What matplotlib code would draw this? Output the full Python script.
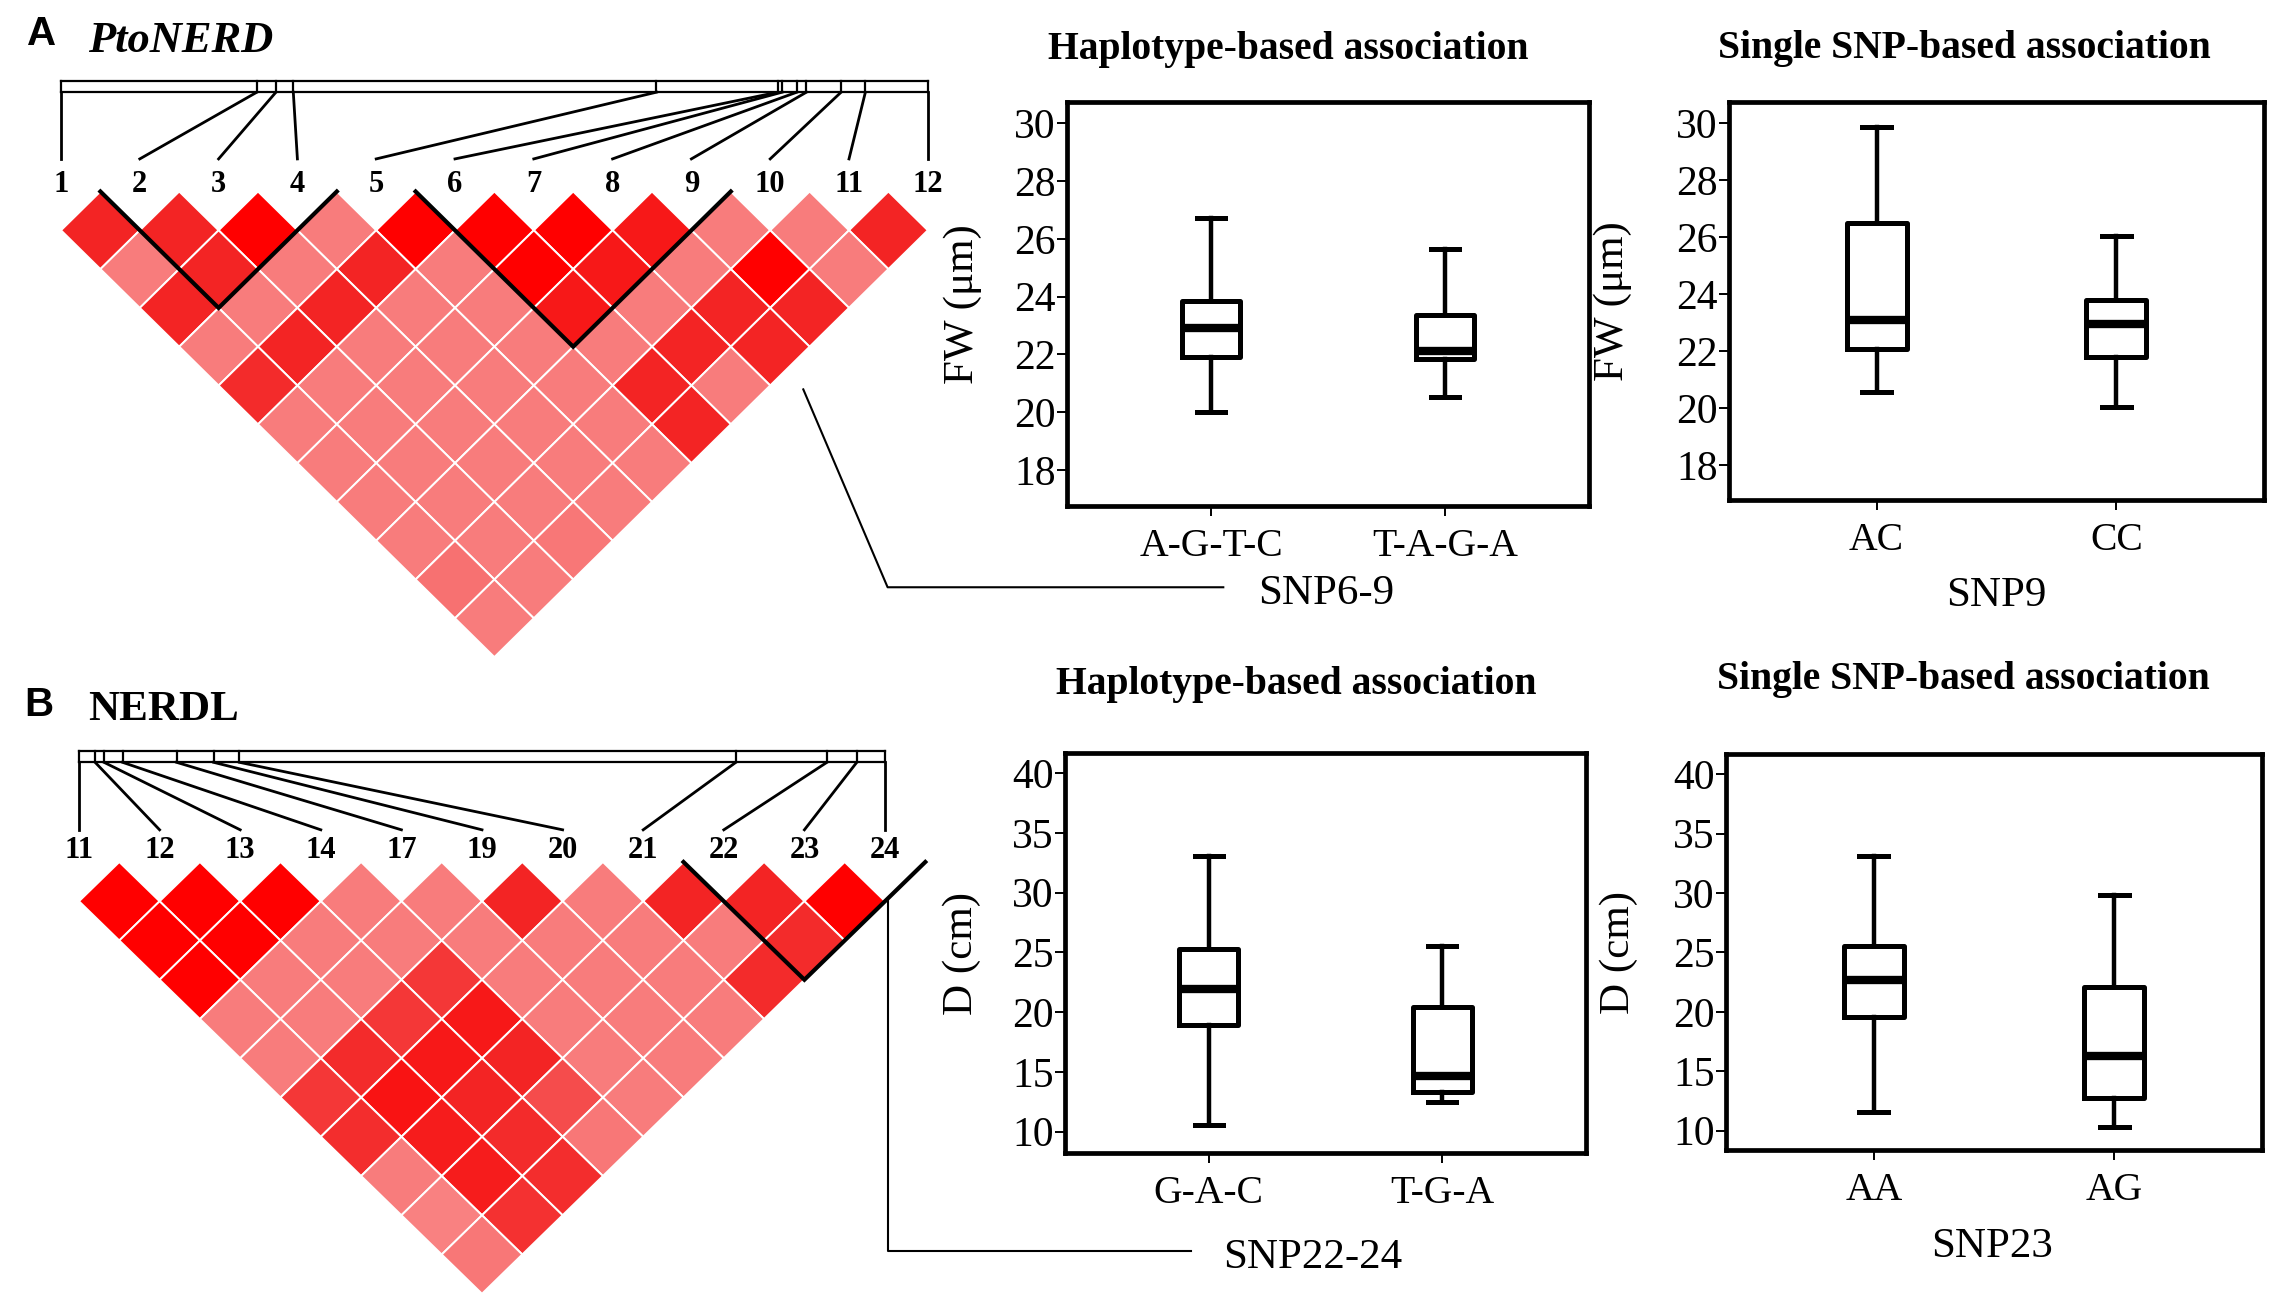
import matplotlib.pyplot as plt
import numpy as np
from matplotlib.collections import PolyCollection
from matplotlib.colors import LinearSegmentedColormap, Normalize

plt.switch_backend("Agg")

W, H = 2276, 1308
SERIF = ["Liberation Serif", "DejaVu Serif"]
SANS = ["Liberation Sans", "DejaVu Sans"]

# ---- panel A: PtoNERD LD plot (12 SNPs)
a_snps = [str(i) for i in range(1, 13)]
a_pos = [0.0, 0.226, 0.248, 0.268, 0.687, 0.827, 0.832, 0.849, 0.860, 0.900, 0.928, 1.0]
# D' values, one list per marker distance (1..11)
a_ld = [
    [0.85, 0.85, 1.0, 0.1, 1.0, 1.0, 1.0, 0.9, 0.1, 0.1, 0.85],
    [0.1, 0.85, 0.1, 0.85, 0.1, 1.0, 0.9, 0.1, 1.0, 0.1],
    [0.85, 0.1, 0.85, 0.1, 0.1, 0.9, 0.1, 0.85, 0.85],
    [0.1, 0.85, 0.1, 0.1, 0.1, 0.1, 0.85, 0.85],
    [0.8, 0.1, 0.1, 0.1, 0.1, 0.85, 0.1],
    [0.1, 0.1, 0.1, 0.1, 0.1, 0.85],
    [0.1, 0.1, 0.1, 0.1, 0.1],
    [0.1, 0.1, 0.1, 0.1],
    [0.1, 0.1, 0.15],
    [0.2, 0.1],
    [0.1],
]
a_blocks = [(2, 4), (6, 9)]

# ---- panel B: NERDL LD plot (11 SNPs)
b_snps = ["11", "12", "13", "14", "17", "19", "20", "21", "22", "23", "24"]
b_pos = [0.0, 0.020, 0.031, 0.054, 0.121, 0.167, 0.199, 0.815, 0.928, 0.965, 1.0]
b_ld = [
    [1.0, 1.0, 1.0, 0.1, 0.1, 0.85, 0.1, 0.85, 0.85, 1.0],
    [1.0, 1.0, 0.1, 0.1, 0.1, 0.1, 0.1, 0.1, 0.8],
    [1.0, 0.1, 0.1, 0.7, 0.1, 0.1, 0.1, 0.8],
    [0.1, 0.1, 0.7, 0.9, 0.1, 0.1, 0.1],
    [0.1, 0.8, 0.9, 0.85, 0.1, 0.1],
    [0.7, 0.92, 0.85, 0.55, 0.1],
    [0.78, 0.88, 0.8, 0.15],
    [0.1, 0.88, 0.78],
    [0.05, 0.75],
    [0.15],
]
b_blocks = [(9, 11)]

# ---- box plot summaries: (low whisker, Q1, median, Q3, high whisker)
fw_haplo_groups = ["A-G-T-C", "T-A-G-A"]
fw_haplo_stats = [(20.02, 21.9, 22.91, 23.86, 26.72), (20.54, 21.85, 22.12, 23.35, 25.63)]
fw_snp_groups = ["AC", "CC"]
fw_snp_stats = [(20.57, 22.08, 23.1, 26.48, 29.86), (20.04, 21.79, 22.94, 23.8, 26.05)]
d_haplo_groups = ["G-A-C", "T-G-A"]
d_haplo_stats = [(10.56, 18.9, 21.9, 25.3, 33.06), (12.5, 13.3, 14.65, 20.4, 25.5)]
d_snp_groups = ["AA", "AG"]
d_snp_stats = [(11.6, 19.6, 22.7, 25.5, 33.07), (10.3, 12.75, 16.3, 22.1, 29.85)]

ld_cmap = LinearSegmentedColormap.from_list(
    "ld", [(0, "#F98686"), (0.5, "#F55252"), (0.85, "#F32424"), (1.0, "#FF0000")])

fig = plt.figure(figsize=(W / 100, H / 100), dpi=100)


def add_axes_px(left, top, right, bottom):
    return fig.add_axes([left / W, 1 - bottom / H, (right - left) / W, (bottom - top) / H])


def draw_ld(ax, snps, pos, ld, blocks, bar_top, bar_bot, label_top, label_base):
    n = len(snps)
    polys, vals = [], []
    for d, row in enumerate(ld, start=1):
        for i, v in enumerate(row, start=1):
            cx, cy = i + d / 2, -d / 2
            polys.append([(cx, cy + 0.5), (cx + 0.5, cy), (cx, cy - 0.5), (cx - 0.5, cy)])
            vals.append(v)
    pc = PolyCollection(polys, array=np.array(vals), cmap=ld_cmap, norm=Normalize(0, 1),
                        edgecolors="white", linewidths=1.4)
    ax.add_collection(pc)
    for a, b in blocks:
        ax.plot([a - 0.5, (a + b) / 2, b + 0.5], [0, -(b - a + 1) / 2, 0],
                color="black", lw=3, solid_joinstyle="miter")
    # physical position bar
    ax.plot([1, n], [bar_top, bar_top], color="black", lw=1.6)
    ax.plot([1, n], [bar_bot, bar_bot], color="black", lw=1.6)
    for k, p in enumerate(pos):
        x = 1 + p * (n - 1)
        ax.plot([x, x], [bar_bot, bar_top], color="black", lw=1.6)
        ax.plot([x, k + 1], [bar_bot, label_top], color="black", lw=2)
        ax.text(k + 1, label_base, snps[k], ha="center", va="baseline",
                fontsize=22, fontweight="bold", family=SERIF)
    ax.axis("off")


# LD panel A
ax_a = add_axes_px(61 + 78.8 * (0.3 - 1), 191.5 - 77.6 * 1.6, 61 + 78.8 * 11.8, 191.5 + 77.6 * 6.1)
ax_a.set_xlim(0.3, 12.8)
ax_a.set_ylim(-6.1, 1.6)
draw_ld(ax_a, a_snps, a_pos, a_ld, a_blocks, 1.42, 1.28, 0.42, -0.01)
ax_a.plot([10.42, 11.49, 15.75], [-2.55, -5.10, -5.10], color="black", lw=1.5, clip_on=False)

# LD panel B
ax_b = add_axes_px(79 + 80.6 * (0.3 - 1), 862 - 78.5 * 1.6, 79 + 80.6 * 11.6, 862 + 78.5 * 5.65)
ax_b.set_xlim(0.3, 12.6)
ax_b.set_ylim(-5.65, 1.6)
draw_ld(ax_b, b_snps, b_pos, b_ld, b_blocks, 1.41, 1.27, 0.41, 0.05)
ax_b.plot([11.04, 11.04, 14.8], [-0.48, -4.95, -4.95], color="black", lw=1.5, clip_on=False)

fig.text(27 / W, 1 - 45 / H, "A", fontsize=29, fontweight="bold", family=SANS, va="baseline")
fig.text(88 / W, 1 - 52 / H, "PtoNERD", fontsize=32, fontweight="bold", style="italic",
         family=SERIF, va="baseline")
fig.text(24 / W, 1 - 716 / H, "B", fontsize=29, fontweight="bold", family=SANS, va="baseline")
fig.text(88 / W, 1 - 720 / H, "NERDL", fontsize=31, fontweight="bold", family=SERIF, va="baseline")


def box_panel(rect, groups, stats, ylim, yticks, ylabel, xlabel, ylab_x, xlab_xy, title, title_xy):
    ax = add_axes_px(*rect)
    st = [dict(label=g, whislo=s[0], q1=s[1], med=s[2], q3=s[3], whishi=s[4])
          for g, s in zip(groups, stats)]
    ax.bxp(st, positions=range(len(st)), widths=0.25, capwidths=0.12, showfliers=False,
           boxprops=dict(lw=3.6, color="black"),
           whiskerprops=dict(lw=3.2, color="black"),
           capprops=dict(lw=3.6, color="black"),
           medianprops=dict(lw=6.0, color="black", solid_capstyle="butt"))
    ax.set_xlim(-0.615, 1.615)
    ax.set_ylim(*ylim)
    ax.set_yticks(yticks)
    for sp in ax.spines.values():
        sp.set_linewidth(3.4)
    ax.tick_params(axis="y", direction="out", length=7, width=1.4, pad=1, labelsize=30)
    ax.tick_params(axis="x", direction="out", length=7, width=1.4, pad=9, labelsize=28.5)
    for lab in ax.get_xticklabels() + ax.get_yticklabels():
        lab.set_family(SERIF)
    ax.set_ylabel(ylabel, fontsize=31, family=SERIF)
    ax.yaxis.set_label_coords(ylab_x, 0.5)
    ax.set_xlabel(xlabel, fontsize=31, family=SERIF, va="baseline")
    ax.xaxis.set_label_coords(*xlab_xy)
    fig.text(title_xy[0] / W, 1 - title_xy[1] / H, title, ha="center", va="baseline",
             fontsize=28.5, fontweight="bold", family=SERIF)
    return ax


box_panel((1067, 102, 1589, 506), fw_haplo_groups, fw_haplo_stats, (16.76, 30.73),
          range(18, 31, 2), "FW (μm)", "SNP6-9", -0.163, (0.496, -0.243),
          "Haplotype-based association", (1288, 59))
box_panel((1729, 102, 2264, 500), fw_snp_groups, fw_snp_stats, (16.77, 30.74),
          range(18, 31, 2), "FW (μm)", "SNP9", -0.181, (0.50, -0.266),
          "Single SNP-based association", (1964, 58))
box_panel((1065, 753, 1586, 1153), d_haplo_groups, d_haplo_stats, (8.22, 41.67),
          range(10, 41, 5), "D (cm)", "SNP22-24", -0.161, (0.476, -0.288),
          "Haplotype-based association", (1296, 694))
box_panel((1726, 754, 2262, 1150), d_snp_groups, d_snp_stats, (8.38, 41.69),
          range(10, 41, 5), "D (cm)", "SNP23", -0.164, (0.496, -0.27),
          "Single SNP-based association", (1963, 689))

fig.savefig("out.png", dpi=100)
